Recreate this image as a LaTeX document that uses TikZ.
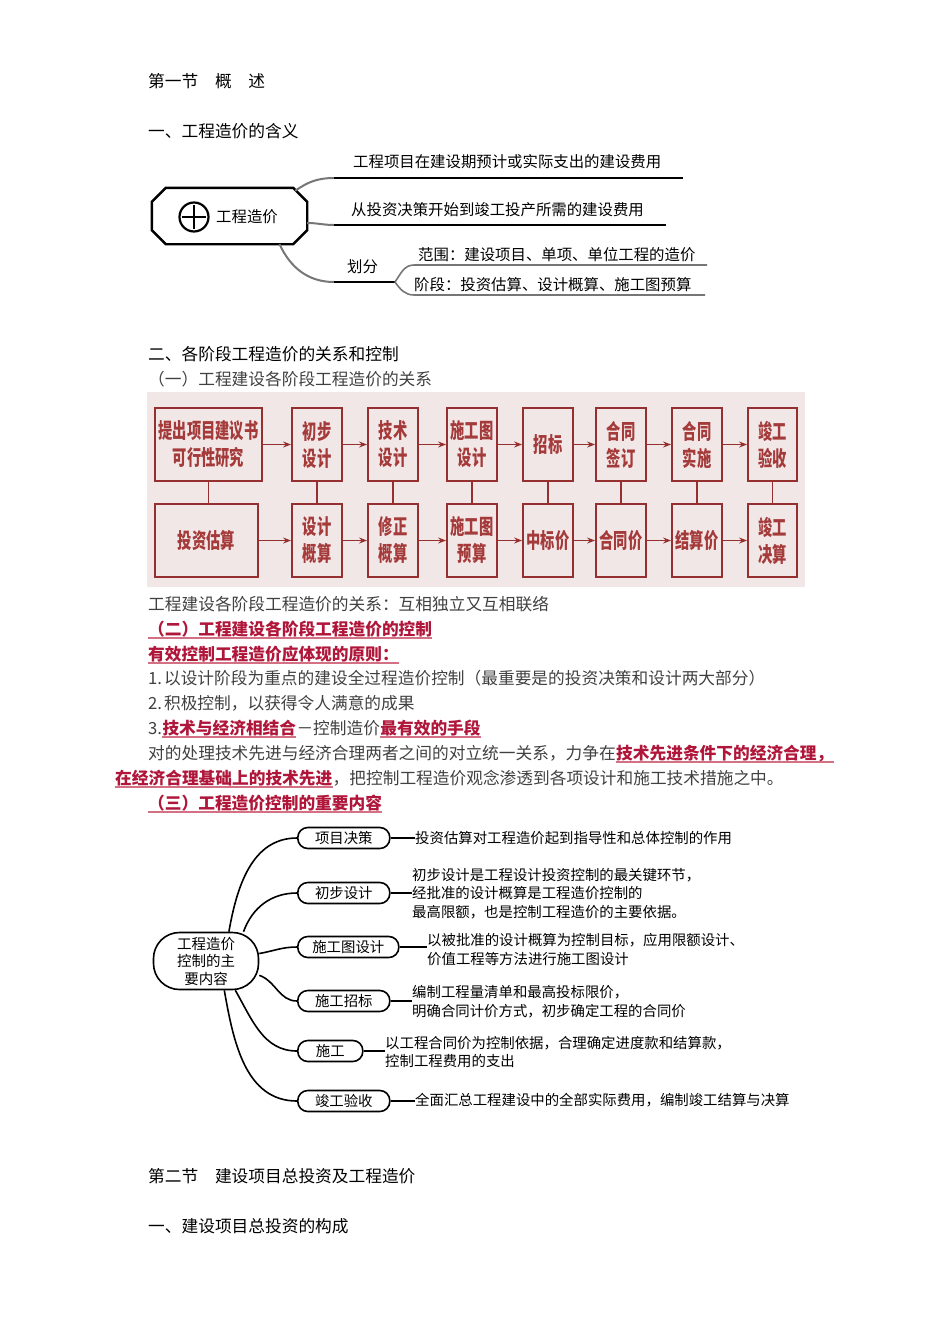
\documentclass[tikz,border=0pt]{standalone}
\usepackage{fontspec}
\setmainfont{Noto Sans CJK SC}
\newfontfamily\condfont[FakeStretch=0.68]{Noto Sans CJK SC}
\usetikzlibrary{arrows.meta}

\definecolor{stagered}{RGB}{150,48,48}
\definecolor{stagetext}{RGB}{165,58,58}
\definecolor{chartbg}{RGB}{242,231,231}
\definecolor{keyred}{RGB}{176,22,58}
\definecolor{ulpink}{RGB}{212,112,132}
\definecolor{bodygrey}{RGB}{64,64,64}
\definecolor{twiggrey}{RGB}{118,118,118}

\newcommand{\bodyfont}{\fontsize{16.7}{20}\selectfont}
\newcommand{\mapfont}{\fontsize{15.4}{18}\selectfont}
\newcommand{\notefont}{\fontsize{14.4}{18.5}\selectfont}

\tikzset{
  headline/.style={anchor=base west, inner sep=0pt, font=\bodyfont},
  textline/.style={headline, text=bodygrey},
  keytext/.style={headline, text=keyred, font=\bodyfont\bfseries},
  underbar/.style={ulpink, line width=1.6pt},
  mainbranch/.style={line width=2.4pt},
  curvegrey/.style={twiggrey, line width=2pt},
  twig/.style={twiggrey, line width=1.6pt},
  maptext/.style={anchor=base west, inner sep=0pt, font=\mapfont},
  stagebox/.style={draw=stagered, line width=1.8pt, minimum height=73pt, inner sep=0pt,
    align=center, text=stagetext, font=\condfont\bfseries\fontsize{21}{27}\selectfont},
  stagearrow/.style={stagered, line width=1.6pt, -{Stealth[length=8pt,width=6pt]}},
  stagelink/.style={stagered, line width=1.4pt},
  topic/.style={draw, line width=1.6pt, rounded corners=10pt, minimum height=21pt,
    inner sep=0pt, anchor=west, font=\notefont},
  note/.style={anchor=west, inner sep=0pt, align=left, font=\notefont},
}

\begin{document}
\begin{tikzpicture}[x=1pt,y=1pt]
\useasboundingbox (0,0) rectangle (950,-1344);

\node[headline] (sec1) at (148,-87) {第一节　概　述};
\node[headline] (part1) at (148,-137) {一、工程造价的含义};

% definition map
\node[minimum width=155pt, minimum height=56pt, inner sep=0pt] (root) at (229.5,-216) {};
\draw[line width=2.4pt] ([xshift=14pt]root.north west) -- ([xshift=-14pt]root.north east)
  -- ([yshift=-14pt]root.north east) -- ([yshift=14pt]root.south east)
  -- ([xshift=-14pt]root.south east) -- ([xshift=14pt]root.south west)
  -- ([yshift=14pt]root.south west) -- ([yshift=-14pt]root.north west) -- cycle;
\node[draw, circle, line width=2.2pt, minimum size=29pt, inner sep=0pt] (plus) at (194,-217) {};
\draw[line width=2.2pt] ([yshift=-4pt]plus.north) -- ([yshift=4pt]plus.south)
  ([xshift=4pt]plus.west) -- ([xshift=-4pt]plus.east);
\node[anchor=west, inner sep=0pt, font=\mapfont] (rootlabel) at (216,-217) {工程造价};

\coordinate (d1a) at (334,-178);
\coordinate (d1b) at (683,-178);
\coordinate (d2a) at (334,-225);
\coordinate (d2b) at (666,-225);
\coordinate (d3a) at (334,-282);
\coordinate (d3b) at (395,-282);
\coordinate (e1a) at (414,-265);
\coordinate (e1b) at (707,-265);
\coordinate (e2a) at (414,-295);
\coordinate (e2b) at (705,-295);

\draw[curvegrey] ([shift={(-12pt,-3pt)}]root.north east) to[out=35,in=180] (d1a);
\draw[curvegrey] ([yshift=-7pt]root.east) to[out=0,in=180] (d2a);
\draw[curvegrey] ([xshift=50pt]root.south) to[out=-65,in=180] (d3a);
\draw[mainbranch] (d1a) -- (d1b);
\draw[mainbranch] (d2a) -- (d2b);
\draw[mainbranch] (d3a) -- (d3b);
\draw[twig] (d3b) to[out=55,in=180] (e1a) -- (e1b);
\draw[twig] (d3b) to[out=-55,in=180] (e2a) -- (e2b);

\node[maptext] (d1) at (353,-167) {工程项目在建设期预计或实际支出的建设费用};
\node[maptext] (d2) at (351,-215) {从投资决策开始到竣工投产所需的建设费用};
\node[maptext] (d3) at (347,-272) {划分};
\node[maptext] (e1) at (418,-260) {范围：建设项目、单项、单位工程的造价};
\node[maptext] (e2) at (414,-290) {阶段：投资估算、设计概算、施工图预算};

\node[headline] (part2) at (148,-360) {二、各阶段工程造价的关系和控制};
\node[textline] (sub1) at (148,-385) {（一）工程建设各阶段工程造价的关系};

% stage chart
\fill[chartbg] (147,-392) rectangle (805,-587);
\foreach \n/\x/\w/\txt in {t1/208.5/107/{提出项目建议书\\可行性研究}, t2/317/50/{初步\\设计},
    t3/393/50/{技术\\设计}, t4/472/50/{施工图\\设计}, t5/548/50/{招标},
    t6/621/50/{合同\\签订}, t7/697/50/{合同\\实施}, t8/772.5/49/{竣工\\验收}}
  \node[stagebox, minimum width=\w] (\n) at (\x,-444.5) {\txt};
\foreach \n/\x/\w/\txt in {b1/206.5/103/{投资估算}, b2/317/50/{设计\\概算},
    b3/393/50/{修正\\概算}, b4/472/50/{施工图\\预算}, b5/548/50/{中标价},
    b6/621/50/{合同价}, b7/697/50/{结算价}, b8/772.5/49/{竣工\\决算}}
  \node[stagebox, minimum width=\w] (\n) at (\x,-540.5) {\txt};
\foreach \a/\b in {t1/t2,t2/t3,t3/t4,t4/t5,t5/t6,t6/t7,t7/t8,
    b1/b2,b2/b3,b3/b4,b4/b5,b5/b6,b6/b7,b7/b8}
  \draw[stagearrow] (\a) -- (\b);
\foreach \i in {1,...,8}
  \draw[stagelink] (t\i.south) -- (t\i.south |- b\i.north);

\node[textline] (rel) at (148,-610) {工程建设各阶段工程造价的关系：互相独立又互相联络};
\node[keytext] (sub2) at (148,-635) {（二）工程建设各阶段工程造价的控制};
\node[keytext] (rule) at (148,-660) {有效控制工程造价应体现的原则：};
\node[textline] (p1) at (148,-684) {1.\hspace{2pt}以设计阶段为重点的建设全过程造价控制（最重要是的投资决策和设计两大部分）};
\node[textline] (p2) at (148,-709) {2.\hspace{2pt}积极控制，以获得令人满意的成果};
\node[textline] (p3a) at (148,-734) {3.\hspace{2pt}};
\node[keytext] (p3b) at (p3a.base east) {技术与经济相结合};
\node[textline] (p3c) at (p3b.base east) {－控制造价};
\node[keytext] (p3d) at (p3c.base east) {最有效的手段};
\node[textline] (p4a) at (148,-759) {对的处理技术先进与经济合理两者之间的对立统一关系，力争在};
\node[keytext] (p4b) at (p4a.base east) {技术先进条件下的经济合理，};
\node[keytext] (p5a) at (115,-784) {在经济合理基础上的技术先进};
\node[textline] (p5b) at (p5a.base east) {，把控制工程造价观念渗透到各项设计和施工技术措施之中。};
\node[keytext] (sub3) at (148,-809) {（三）工程造价控制的重要内容};
\foreach \n in {sub2,rule,p3b,p3d,p4b,p5a,sub3}
  \draw[underbar] ([yshift=-3pt]\n.base west) -- ([yshift=-3pt]\n.base east);

% control content map
\node[draw, line width=1.6pt, rounded corners=26pt, minimum width=105pt, minimum height=57pt,
  inner sep=0pt, align=center, font=\fontsize{14.5}{17.5}\selectfont] (hub) at (206,-961)
  {工程造价\\控制的主\\要内容};
\node[topic, minimum width=92pt] (k1) at (297,-838) {项目决策};
\node[topic, minimum width=92pt] (k2) at (297,-893) {初步设计};
\node[topic, minimum width=101pt] (k3) at (297,-947) {施工图设计};
\node[topic, minimum width=92pt] (k4) at (297,-1001) {施工招标};
\node[topic, minimum width=65pt] (k5) at (297,-1051) {施工};
\node[topic, minimum width=92pt] (k6) at (297,-1101) {竣工验收};

\node[note] (n1) at (415,-838) {投资估算对工程造价起到指导性和总体控制的作用};
\node[note] (n2) at (412,-893.5) {初步设计是工程设计投资控制的最关键环节，\\经批准的设计概算是工程造价控制的\\最高限额，也是控制工程造价的主要依据。};
\node[note] (n3) at (427,-949.5) {以被批准的设计概算为控制目标，应用限额设计、\\价值工程等方法进行施工图设计};
\node[note] (n4) at (412,-1001.5) {编制工程量清单和最高投标限价，\\明确合同计价方式，初步确定工程的合同价};
\node[note] (n5) at (385,-1052) {以工程合同价为控制依据，合理确定进度款和结算款，\\控制工程费用的支出};
\node[note] (n6) at (415,-1100) {全面汇总工程建设中的全部实际费用，编制竣工结算与决算};

\foreach \i/\a/\o in {1/52/80, 2/38/70, 3/8/10, 4/-15/-20, 5/-45/-60, 6/-58/-80}
  \draw[line width=1.6pt] (hub.\a) to[out=\o,in=180] (k\i.west);
\foreach \i in {1,...,6}
  \draw[line width=1.2pt] (k\i.east) -- (k\i.east -| n\i.west);

\node[headline] (sec2) at (148,-1182) {第二节　建设项目总投资及工程造价};
\node[headline] (part3) at (148,-1232) {一、建设项目总投资的构成};
\end{tikzpicture}
\end{document}
